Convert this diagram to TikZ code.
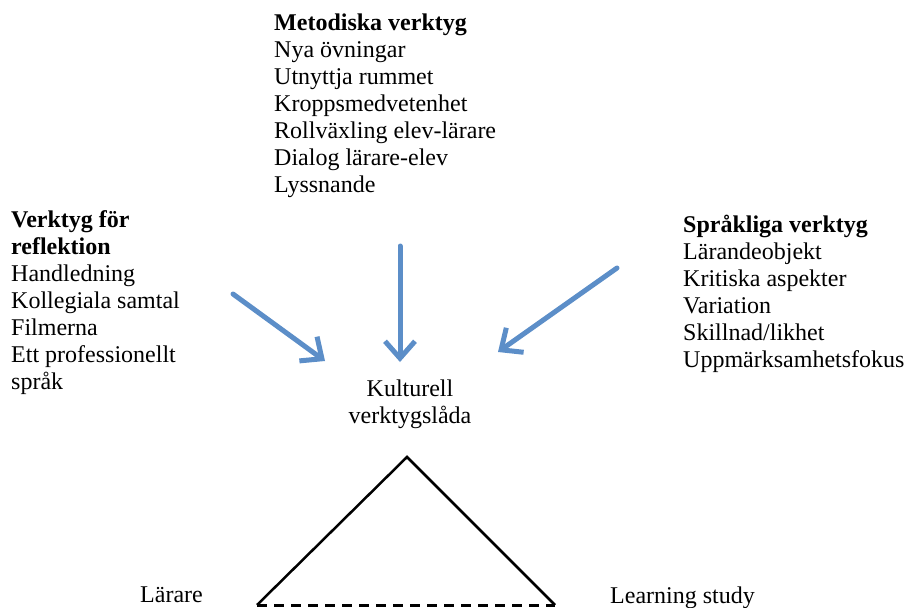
\documentclass[tikz,border=0pt]{standalone}
\usepackage{fontspec}
\setmainfont{Liberation Serif}
\usetikzlibrary{arrows.meta}
\definecolor{pilblue}{RGB}{92,142,200}

\begin{document}
\begin{tikzpicture}[x=1pt, y=-1pt,
    txt/.style={inner sep=0pt, font=\fontsize{24}{27}\selectfont, align=left, anchor=base west},
    pil/.style={pilblue, line width=5pt, line cap=round, line join=round,
        -{Straight Barb[length=17pt, width=30pt]}}]

    \useasboundingbox (0,0) rectangle (906,608);

    % Methodical tools (anchored at the last line)
    \node[txt] (metod) at (274,192) {\textbf{Metodiska verktyg}\\Nya övningar\\Utnyttja rummet\\Kroppsmedvetenhet\\Rollväxling elev-lärare\\Dialog lärare-elev\\Lyssnande};

    % Tools for reflection
    \node[txt] (reflek) at (11,389) {\textbf{Verktyg för}\\\textbf{reflektion}\\Handledning\\Kollegiala samtal\\Filmerna\\Ett professionellt\\språk};

    % Linguistic tools
    \node[txt] (sprak) at (683,367) {\textbf{Språkliga verktyg}\\Lärandeobjekt\\Kritiska aspekter\\Variation\\Skillnad/likhet\\Uppmärksamhetsfokus};

    % Centre
    \node[txt, align=center, anchor=base] (kultur) at (410,423) {Kulturell\\verktygslåda};

    % Arrows
    \coordinate (m0) at (400,246);
    \coordinate (m1) at (400,362);
    \coordinate (r0) at (233,294);
    \coordinate (r1) at (325,361);
    \coordinate (s0) at (617,268);
    \coordinate (s1) at (498,352);
    \draw[pil] (m0) -- (m1);
    \draw[pil] (r0) -- (r1);
    \draw[pil] (s0) -- (s1);

    % Triangle
    \coordinate (top) at (407,457);
    \coordinate (vl) at (257,605);
    \coordinate (vr) at (555,605);
    \draw[line width=2.5pt] (vl) -- (top) -- (vr);
    \draw[line width=3pt, dash pattern=on 10pt off 7pt] (vl) -- (vr);
    \node[txt] (larare) at (140,602) {Lärare};
    \node[txt] (lstudy) at (610,603) {Learning study};
\end{tikzpicture}
\end{document}
